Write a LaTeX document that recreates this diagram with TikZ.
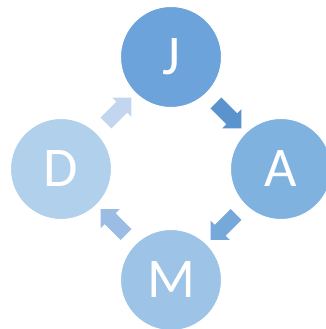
\documentclass[tikz,border=0pt]{standalone}
\usepackage{fontspec}
\setmainfont{Carlito}
\usepackage{tikz}
\usetikzlibrary{shapes, arrows.meta, calc}
\definecolor{cJ}{HTML}{6CA3DA}
\definecolor{cA}{HTML}{80B2E0}
\definecolor{cM}{HTML}{9DC3E6}
\definecolor{cD}{HTML}{B1D0EC}
\definecolor{aJ}{HTML}{5A93CE}
\definecolor{aA}{HTML}{76A8DA}
\definecolor{aM}{HTML}{9BBCE3}
\definecolor{aD}{HTML}{C2D7EF}
\tikzstyle{month} = [circle, minimum size=101pt, inner sep=0pt, draw=white, line width=1pt, text=white, font=\fontsize{56}{56}\selectfont]
\tikzstyle{blockarrow} = [single arrow, minimum height=36pt, inner sep=7.5pt, single arrow head extend=6pt]

\begin{document}
\begin{tikzpicture}[x=1pt, y=1pt]
\useasboundingbox (0,0) rectangle (325,329);
\node (J) [month, fill=cJ] at (171,272) {J};
\node (A) [month, fill=cA] at (281,160) {A};
\node (M) [month, fill=cM] at (171,49) {M};
\node (D) [month, fill=cD] at (61,160) {D};

%---------------------------------ARROWS
\node (JA) [blockarrow, fill=aJ, rotate=-45] at ($(J)!0.5!(A)$) {};
\node (AM) [blockarrow, fill=aA, rotate=-135] at ($(A)!0.5!(M)$) {};
\node (MD) [blockarrow, fill=aM, rotate=135] at ($(M)!0.5!(D)$) {};
\node (DJ) [blockarrow, fill=aD, rotate=45] at ($(D)!0.5!(J)$) {};

\end{tikzpicture}
\end{document}
